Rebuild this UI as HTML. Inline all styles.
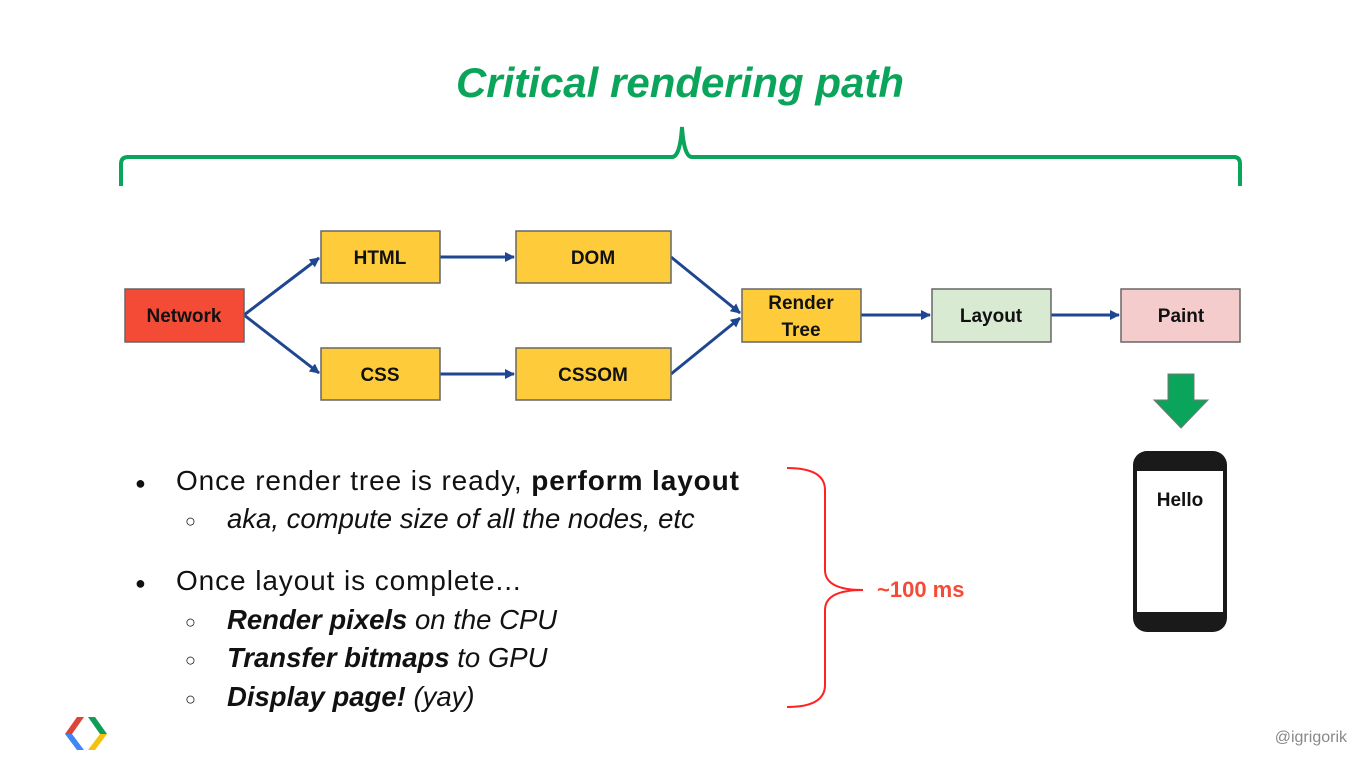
<!DOCTYPE html>
<html><head><style>
body{margin:0;width:1360px;height:760px;background:#fff;overflow:hidden;font-family:"Liberation Sans",sans-serif}
</style></head><body>
<svg width="1360" height="760" xmlns="http://www.w3.org/2000/svg" font-family="Liberation Sans, sans-serif">
<defs><marker id="a" markerWidth="10" markerHeight="10" refX="9" refY="5" orient="auto" markerUnits="userSpaceOnUse"><path d="M0,0 L10,5 L0,10 z" fill="#1f4690"/></marker></defs>
<text x="680" y="97" text-anchor="middle" font-size="42" font-weight="bold" font-style="italic" fill="#0aa55a">Critical rendering path</text>
<path d="M121,186 V164 Q121,157 128,157 H672 Q680,157 682,127 Q684,157 692,157 H1234 Q1240,157 1240,164 V186" fill="none" stroke="#0aa55a" stroke-width="4"/>
<g stroke="#1f4690" stroke-width="3" fill="none" marker-end="url(#a)">
<line x1="244" y1="315" x2="319" y2="258"/>
<line x1="244" y1="315" x2="319" y2="373"/>
<line x1="440" y1="257" x2="514" y2="257"/>
<line x1="440" y1="374" x2="514" y2="374"/>
<line x1="671" y1="257" x2="740" y2="313"/>
<line x1="671" y1="374" x2="740" y2="318"/>
<line x1="861" y1="315" x2="930" y2="315"/>
<line x1="1051" y1="315" x2="1119" y2="315"/>
</g>
<g stroke="#666" stroke-width="1.5">
<rect x="125" y="289" width="119" height="53" fill="#f44b37"/>
<rect x="321" y="231" width="119" height="52" fill="#fecc3b"/>
<rect x="321" y="348" width="119" height="52" fill="#fecc3b"/>
<rect x="516" y="231" width="155" height="52" fill="#fecc3b"/>
<rect x="516" y="348" width="155" height="52" fill="#fecc3b"/>
<rect x="742" y="289" width="119" height="53" fill="#fecc3b"/>
<rect x="932" y="289" width="119" height="53" fill="#d9ead3"/>
<rect x="1121" y="289" width="119" height="53" fill="#f4cccc"/>
</g>
<g font-size="19" font-weight="bold" text-anchor="middle" fill="#111">
<text x="184" y="322">Network</text>
<text x="380" y="264">HTML</text>
<text x="380" y="381">CSS</text>
<text x="593" y="264">DOM</text>
<text x="593" y="381">CSSOM</text>
<text x="801" y="309">Render</text>
<text x="801" y="336">Tree</text>
<text x="991" y="322">Layout</text>
<text x="1181" y="322">Paint</text>
</g>
<path d="M1168,374 H1194 V400 H1208 L1181,428 L1154,400 H1168 Z" fill="#0aa55a" stroke="#777" stroke-width="1"/>
<rect x="1133" y="451" width="94" height="181" rx="14" fill="#1a1a1a"/>
<rect x="1137" y="471" width="86" height="141" fill="#fff"/>
<text x="1180" y="506" text-anchor="middle" font-size="19" font-weight="bold" fill="#111">Hello</text>
<path d="M787,468 Q825,468 825,490 V570 Q825,590 863,590 Q825,590 825,610 V685 Q825,707 787,707" fill="none" stroke="#f22" stroke-width="2"/>
<text x="877" y="597" font-size="22" font-weight="bold" fill="#f44b37">~100 ms</text>
<g font-size="28" fill="#111">
<text x="135" y="489" font-size="18">●</text>
<text x="176" y="490" letter-spacing="0.9">Once render tree is ready, <tspan font-weight="bold">perform layout</tspan></text>
<text x="185" y="527" font-size="18">○</text>
<text x="227" y="528" font-style="italic" font-size="27.5">aka, compute size of all the nodes, etc</text>
<text x="135" y="589" font-size="18">●</text>
<text x="176" y="590" letter-spacing="0.9">Once layout is complete...</text>
<text x="185" y="628" font-size="18">○</text>
<text x="227" y="629" font-style="italic" font-size="27.5"><tspan font-weight="bold">Render pixels</tspan> on the CPU</text>
<text x="185" y="666" font-size="18">○</text>
<text x="227" y="667" font-style="italic" font-size="27.5"><tspan font-weight="bold">Transfer bitmaps</tspan> to GPU</text>
<text x="185" y="705" font-size="18">○</text>
<text x="227" y="706" font-style="italic" font-size="27.5"><tspan font-weight="bold">Display page!</tspan> (yay)</text>
</g>
<polygon points="65,734 77,717 84,717 72,734" fill="#db4437"/>
<polygon points="65,734 72,734 84,750 77,750" fill="#4285f4"/>
<polygon points="88,717 95,717 107,734 100,734" fill="#0f9d58"/>
<polygon points="100,734 107,734 95,750 88,750" fill="#f4c20d"/>
<text x="1347" y="742" text-anchor="end" font-size="16" fill="#888">@igrigorik</text>
</svg>
</body></html>
